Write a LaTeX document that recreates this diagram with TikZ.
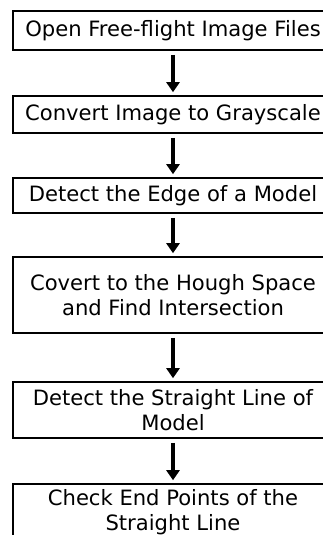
\documentclass[tikz,border=0pt]{standalone}
\usepackage{fontspec}
\setmainfont{DejaVu Sans}
\usetikzlibrary{arrows.meta}
\begin{document}
\begin{tikzpicture}[x=1pt,y=-1pt,
  stepbox/.style={draw=black, line width=1.6pt, fill=white, minimum width=320pt,
    align=center, inner sep=0pt, font=\fontsize{21.1}{24.8}\selectfont},
  flowarrow/.style={line width=4pt, -{Triangle[width=13pt,length=10pt]},
    shorten <=4pt, shorten >=3pt}]
\useasboundingbox (0,0) rectangle (323,535);
\clip (0,0) rectangle (323,535);
\node[stepbox, minimum height=39pt] (b1) at (173,30.5) {Open Free-flight Image Files};
\node[stepbox, minimum height=37pt] (b2) at (173,114.5) {Convert Image to Grayscale};
\node[stepbox, minimum height=35pt] (b3) at (173,195.5) {Detect the Edge of a Model};
\node[stepbox, minimum height=76pt] (b4) at (173,295) {Covert to the Hough Space\\and Find Intersection};
\node[stepbox, minimum height=56pt] (b5) at (173,410) {Detect the Straight Line of\\Model};
\node[stepbox, minimum height=56pt] (b6) at (173,512) {Check End Points of the\\Straight Line};
\draw[flowarrow] (b1) -- (b2);
\draw[flowarrow] (b2) -- (b3);
\draw[flowarrow] (b3) -- (b4);
\draw[flowarrow] (b4) -- (b5);
\draw[flowarrow] (b5) -- (b6);
\end{tikzpicture}
\end{document}
